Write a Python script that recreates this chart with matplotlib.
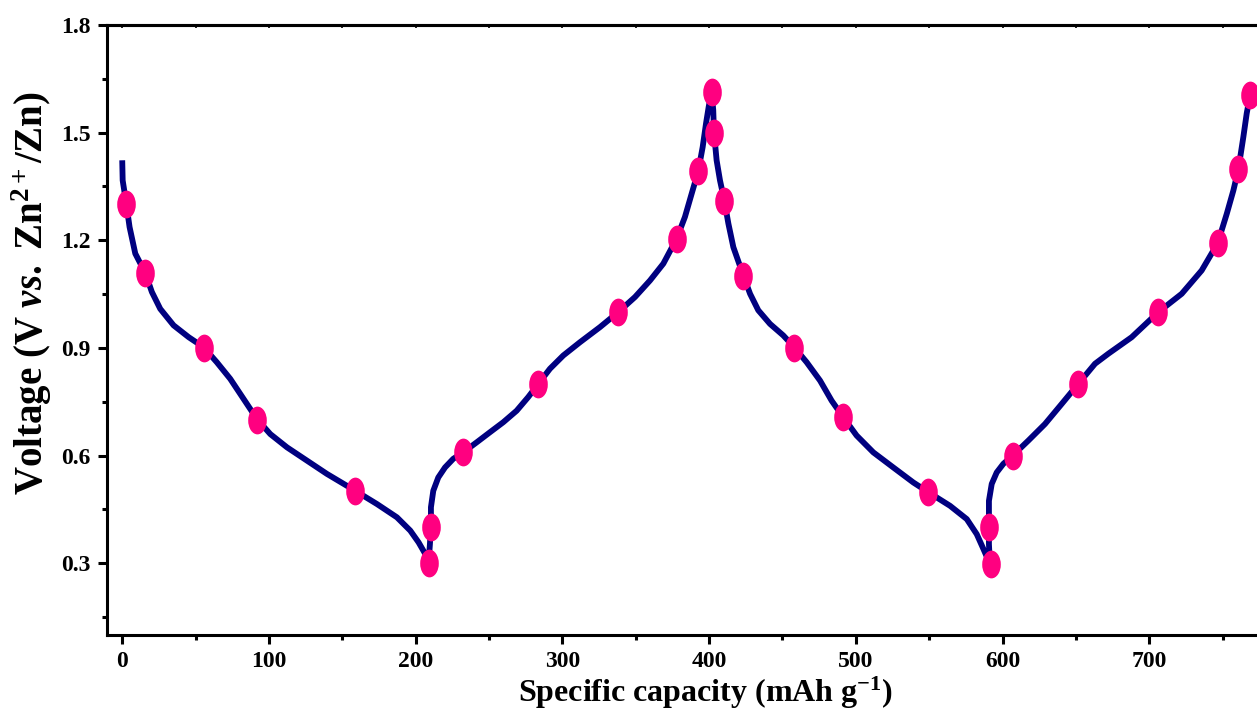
import numpy as np
import matplotlib
matplotlib.use("Agg")
import matplotlib.pyplot as plt
from matplotlib.path import Path
from matplotlib.transforms import Affine2D
from matplotlib.ticker import MultipleLocator

plt.rcParams['font.family'] = 'Liberation Serif'
plt.rcParams['font.weight'] = 'bold'
plt.rcParams['mathtext.fontset'] = 'custom'
plt.rcParams['mathtext.rm'] = 'Liberation Serif:bold'
plt.rcParams['mathtext.bf'] = 'Liberation Serif:bold'
plt.rcParams['mathtext.it'] = 'Liberation Serif:bold:italic'

# GCD curve (capacity mAh/g, voltage V)
dis1_cap = [0, 0.3, 2.7, 5.0, 8.9, 15.7, 20.2, 25.9, 35.0, 45.3, 55.5, 64.5, 73.6,
            82.7, 91.8, 100.9, 112.3, 125.9, 139.5, 158.8, 173.6, 187.2, 196.3,
            202.0, 206.5, 208.8]
dis1_v = [1.423, 1.367, 1.304, 1.237, 1.163, 1.109, 1.056, 1.009, 0.963, 0.930,
          0.902, 0.860, 0.814, 0.758, 0.702, 0.660, 0.623, 0.586, 0.549, 0.502,
          0.465, 0.428, 0.391, 0.358, 0.326, 0.302]

chg1_cap = [208.8, 209.7, 210.4, 210.4, 212.0, 215.4, 220.0, 225.6, 232.4, 241.6,
            250.6, 259.7, 268.8, 276.7, 283.6, 291.5, 300.6, 312.0, 325.6, 338.1,
            349.5, 359.7, 368.8, 377.9, 383.5, 388.1, 392.6, 395.6, 397.9, 399.7,
            401.7]
chg1_v = [0.302, 0.353, 0.400, 0.456, 0.502, 0.539, 0.567, 0.591, 0.609, 0.637,
          0.665, 0.693, 0.725, 0.763, 0.800, 0.842, 0.879, 0.916, 0.958, 1.000,
          1.042, 1.088, 1.135, 1.205, 1.265, 1.330, 1.393, 1.460, 1.526, 1.572,
          1.614]

dis2_cap = [401.7, 402.8, 403.3, 405.1, 407.4, 410.3, 413.1, 416.5, 423.3, 427.9,
            433.5, 441.5, 450.5, 458.0, 466.5, 475.6, 483.5, 491.4, 500.5, 511.9,
            525.5, 539.2, 549.4, 564.2, 575.6, 582.4, 586.9, 591.4]
dis2_v = [1.614, 1.563, 1.502, 1.423, 1.367, 1.312, 1.247, 1.181, 1.102, 1.051,
          1.005, 0.967, 0.935, 0.902, 0.860, 0.809, 0.753, 0.707, 0.656, 0.609,
          0.567, 0.525, 0.498, 0.460, 0.423, 0.381, 0.340, 0.298]

chg2_cap = [591.4, 590.7, 590.7, 590.7, 592.6, 596.0, 600.5, 606.9, 617.6, 628.9,
            640.3, 651.6, 663.0, 672.1, 688.0, 706.2, 722.1, 735.7, 746.6, 752.8,
            757.3, 760.7, 764.1, 766.4, 768.7]
chg2_v = [0.298, 0.353, 0.400, 0.474, 0.521, 0.553, 0.577, 0.600, 0.642, 0.688,
          0.744, 0.800, 0.856, 0.884, 0.930, 1.000, 1.051, 1.116, 1.192, 1.274,
          1.339, 1.398, 1.488, 1.554, 1.605]

# symbols on the curve
mk_cap = [2.7, 15.7, 55.5, 91.8, 158.8, 208.8,
          210.4, 232.4, 283.6, 338.1, 377.9, 392.6, 401.7,
          403.3, 410.3, 423.3, 458.0, 491.4, 549.4, 591.9,
          591.0, 606.9, 651.6, 706.2, 746.6, 760.7, 768.7]
mk_v = [1.30, 1.11, 0.90, 0.70, 0.50, 0.30,
        0.40, 0.61, 0.80, 1.00, 1.205, 1.393, 1.614,
        1.50, 1.31, 1.10, 0.90, 0.707, 0.498, 0.298,
        0.40, 0.60, 0.80, 1.00, 1.192, 1.398, 1.605]

cap = dis1_cap + chg1_cap[1:] + dis2_cap[1:] + chg2_cap[1:]
volt = dis1_v + chg1_v[1:] + dis2_v[1:] + chg2_v[1:]

ellipse = Path.unit_circle().transformed(Affine2D().scale(0.67, 1.0))

fig = plt.figure(figsize=(12.57, 7.15), dpi=100)
ax = fig.add_axes([0.0851, 0.1119, 0.9149, 0.8531])

ax.plot(cap, volt, color='#000080', lw=4.2, solid_joinstyle='round',
        solid_capstyle='butt', zorder=2)
ax.plot(mk_cap, mk_v, ls='none', marker=ellipse, ms=20,
        color='#FF0080', mec='none', zorder=3)

ax.set_xlim(-10.4, 773.4)
ax.set_ylim(0.1, 1.8)
ax.xaxis.set_major_locator(MultipleLocator(100))
ax.xaxis.set_minor_locator(MultipleLocator(50))
ax.yaxis.set_major_locator(MultipleLocator(0.3))
ax.yaxis.set_minor_locator(MultipleLocator(0.15))
ax.yaxis.set_major_formatter(plt.FormatStrFormatter('%.1f'))

ax.spines['right'].set_visible(False)
for s in ['left', 'bottom', 'top']:
    ax.spines[s].set_linewidth(2.2)

ax.tick_params(axis='both', which='major', direction='out', length=6.5, width=2.2,
               labelsize=17, pad=5)
ax.tick_params(axis='both', which='minor', direction='out', length=3.5, width=2.2)
for lab in ax.get_xticklabels() + ax.get_yticklabels():
    lab.set_fontweight('bold')

# tiny inward ticks on the top spine
top = ax.secondary_xaxis('top')
top.xaxis.set_major_locator(MultipleLocator(100))
top.xaxis.set_minor_locator(MultipleLocator(50))
top.tick_params(which='both', direction='in', length=2, width=1.2, labeltop=False)
top.spines['top'].set_linewidth(2.2)

ax.set_xlabel('Specific capacity (mAh g$^{-1}$)', fontsize=23, fontweight='bold')
ax.set_ylabel(r'Voltage (V $\mathit{vs.}$ Zn$^{2+}$/Zn)', fontsize=28, fontweight='bold')
ax.xaxis.set_label_coords(0.52, -0.066)
ax.yaxis.set_label_coords(-0.046, 0.56)

fig.savefig('out.png', dpi=100)
